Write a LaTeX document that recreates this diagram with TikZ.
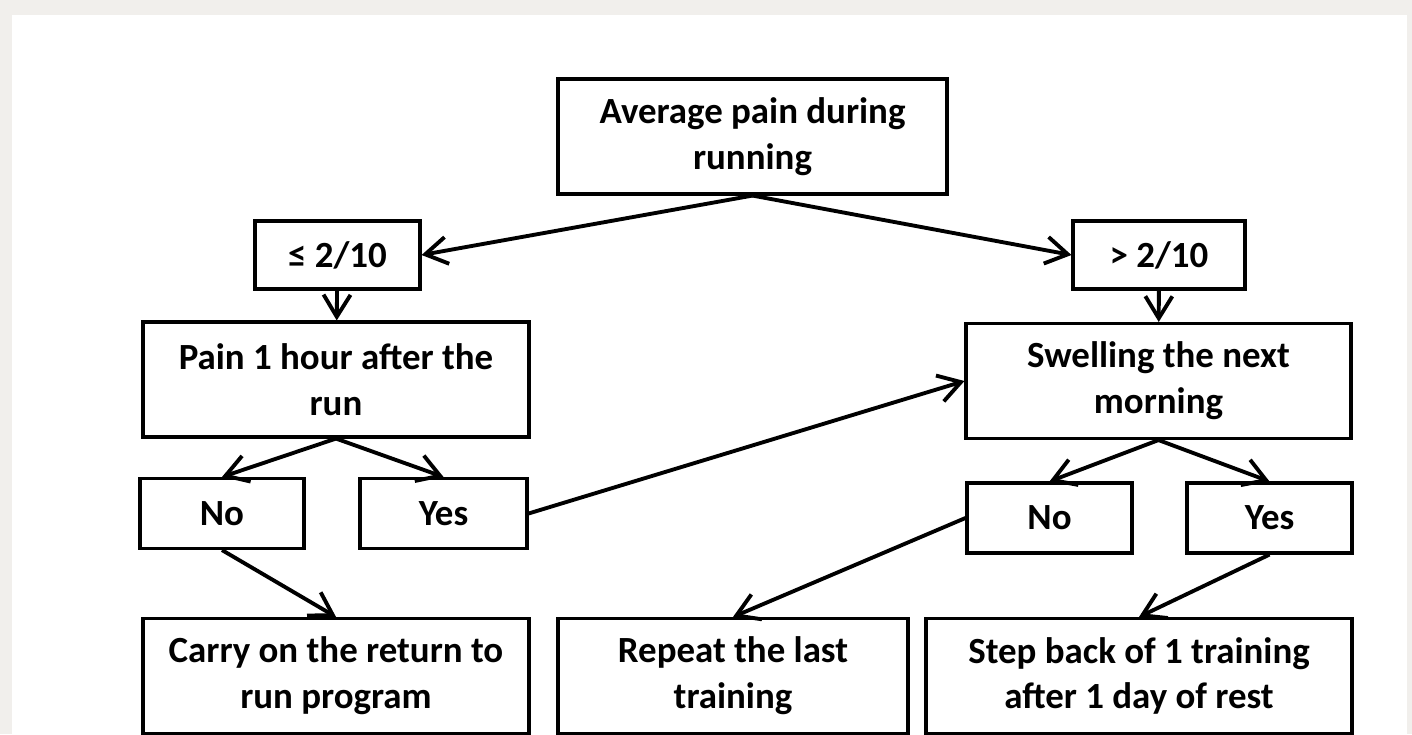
\documentclass[tikz,border=0pt]{standalone}
\usepackage{fontspec}
\setmainfont{Carlito}
\usetikzlibrary{arrows.meta}
\definecolor{edgegray}{HTML}{F1EFEC}
\begin{document}
\begin{tikzpicture}[x=0.02cm, y=-0.02cm,
    box/.style={draw, line width=1.8pt, inner sep=0pt, align=center, font=\bfseries\fontsize{21}{26}\selectfont},
    big/.style={box, minimum height=2.3cm},
    small/.style={box, minimum height=1.4cm},
    arrow/.style={-{Straight Barb[length=4.4mm,width=5.4mm]}, line width=2.2pt}
]
    % page and margins
    \useasboundingbox (0,0) rectangle (1412,734);
    \fill[edgegray] (0,0) rectangle (1412,734);
    \fill[white] (12,15) rectangle (1407,734);

    \node[big, minimum width=7.78cm] (avg) at (752.5,136.5) {Average pain during\\running};
    \node[small, minimum width=3.3cm, minimum height=1.36cm] (low) at (337.5,255) {≤ 2/10};
    \node[small, minimum width=3.44cm, minimum height=1.36cm] (high) at (1159,255) {> 2/10};
    \node[big, minimum width=7.72cm] (pain) at (336,379.5) {Pain 1 hour after the\\run};
    \node[big, minimum width=7.7cm] (swell) at (1158.5,381) {Swelling the next\\morning};
    \node[small, minimum width=3.28cm] (painno) at (222,513.5) {No};
    \node[small, minimum width=3.34cm] (painyes) at (443.5,513.5) {Yes};
    \node[small, minimum width=3.3cm] (swellno) at (1049.5,518) {No};
    \node[small, minimum width=3.3cm] (swellyes) at (1269.5,518) {Yes};
    \node[big, minimum width=7.72cm] (carry) at (336,676) {Carry on the return to\\run program};
    \node[big, minimum width=7.0cm] (repeat) at (733,676) {Repeat the last\\training};
    \node[big, minimum width=8.52cm] (stepback) at (1139,676) {Step back of 1 training\\after 1 day of rest};

    % pain during running
    \draw[arrow] (avg.south) -- (low.east);
    \draw[arrow] (avg.south) -- (high.west);
    \draw[arrow] (low) -- (pain);
    \draw[arrow] (high) -- (swell);

    % pain after the run
    \draw[arrow] (pain.south) -- (painno.north);
    \draw[arrow] (pain.south) -- (painyes.north);
    \draw[arrow] (painno.south) -- (carry.north);
    \draw[arrow] (painyes.east) -- (swell.west);

    % swelling
    \draw[arrow] (swell.south) -- (swellno.north);
    \draw[arrow] (swell.south) -- (swellyes.north);
    \draw[arrow] (swellno.west) -- (repeat.north);
    \draw[arrow] (swellyes.south) -- (stepback.north);
\end{tikzpicture}
\end{document}
